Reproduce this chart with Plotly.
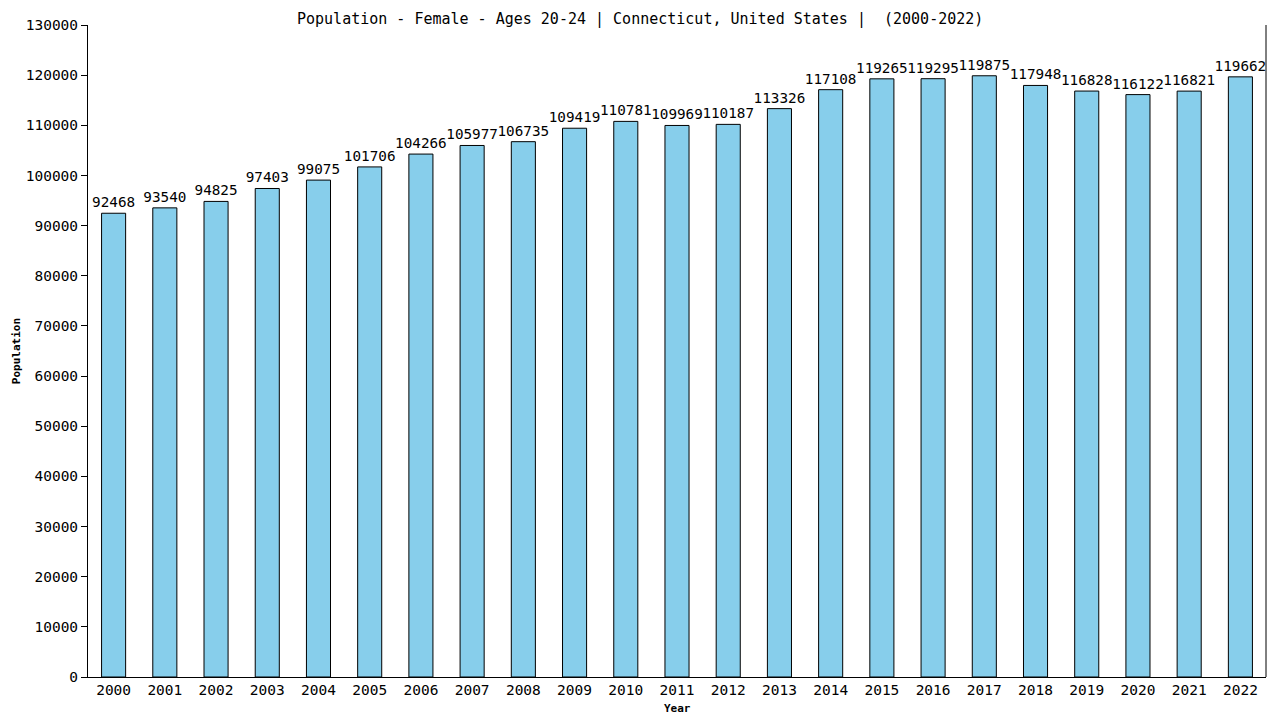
import plotly.graph_objects as go

# population, female ages 20-24, Connecticut
years = [str(y) for y in range(2000, 2023)]
population = [92468, 93540, 94825, 97403, 99075, 101706, 104266, 105977, 106735,
              109419, 110781, 109969, 110187, 113326, 117108, 119265, 119295,
              119875, 117948, 116828, 116122, 116821, 119662]
y_ticks = list(range(0, 130001, 10000))

mono = "DejaVu Sans Mono"

fig = go.Figure(go.Bar(
    x=years,
    y=population,
    width=0.47,
    marker=dict(color="#87ceeb", line=dict(color="black", width=1)),
    text=[str(v) for v in population],
    textposition="outside",
    textangle=0,
    constraintext="none",
    textfont=dict(family=mono, size=14.3, color="black"),
    cliponaxis=False,
))

# page body has an 8px margin, so the figure is sized to fit the window
fig.update_layout(
    width=1272, height=712,
    margin=dict(l=80, r=14, t=17, b=43, autoexpand=False),
    paper_bgcolor="white", plot_bgcolor="white",
    showlegend=False,
    font=dict(family=mono, color="black"),
)
fig.update_xaxes(
    type="category", range=[-0.5, 22.5], automargin=False,
    showline=True, linecolor="black", linewidth=1, mirror=False,
    ticks="",
    tickfont=dict(family=mono, size=14.5, color="black"),
)
fig.update_yaxes(
    range=[0, 130000], tickvals=y_ticks, ticktext=[str(v) for v in y_ticks],
    automargin=False,
    showgrid=False, zeroline=False,
    showline=True, linecolor="black", linewidth=1,
    ticks="outside", ticklen=6, tickcolor="black",
    tickfont=dict(family=mono, size=14.5, color="black"),
)
# title, centred on the page rather than the plot area
fig.add_annotation(text="Population - Female - Ages 20-24 | Connecticut, United States |  (2000-2022)",
                   xref="paper", yref="paper", x=0.4686, y=1.026,
                   xanchor="center", yanchor="top", showarrow=False,
                   font=dict(family=mono, size=15, color="black"))
# axis titles
fig.add_annotation(text="<b>Year</b>", xref="paper", yref="paper", x=0.5, y=-0.049,
                   xanchor="center", yanchor="middle", showarrow=False,
                   font=dict(family=mono, size=11, color="black"))
fig.add_annotation(text="<b>Population</b>", xref="paper", yref="paper", x=-0.061, y=0.5,
                   xanchor="center", yanchor="middle", textangle=-90, showarrow=False,
                   font=dict(family=mono, size=11, color="black"))
# right border line
fig.add_shape(type="line", xref="paper", yref="paper", x0=1, x1=1, y0=0, y1=1,
              line=dict(color="black", width=1))

fig.write_html("out.html")
